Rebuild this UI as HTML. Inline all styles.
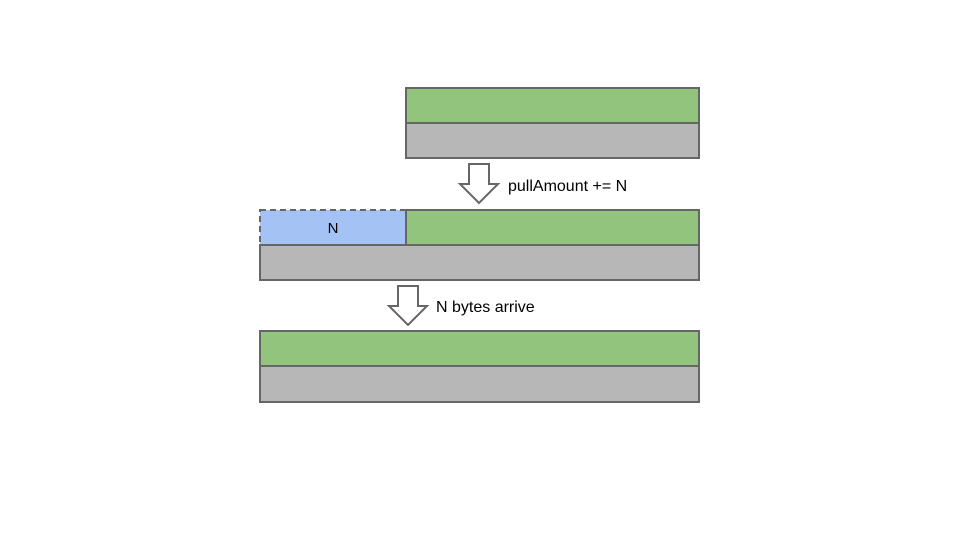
<!DOCTYPE html>
<html><head><style>body{margin:0;background:#fff}</style></head><body>
<svg width="960" height="540" xmlns="http://www.w3.org/2000/svg" font-family="Liberation Sans, sans-serif" font-size="16">
<g stroke="#666" stroke-width="2">
<rect x="406" y="88" width="293" height="35" fill="#93c47d"/>
<rect x="406" y="123" width="293" height="35" fill="#b7b7b7"/>
<rect x="260" y="210" width="146" height="35" fill="#a4c2f4" stroke-dasharray="6,4"/>
<rect x="406" y="210" width="293" height="35" fill="#93c47d"/>
<rect x="260" y="245" width="439" height="35" fill="#b7b7b7"/>
<rect x="260" y="331" width="439" height="35" fill="#93c47d"/>
<rect x="260" y="366" width="439" height="36" fill="#b7b7b7"/>
<polygon points="469,164 489,164 489,184 498,184 479,203 460,184 469,184" fill="#fff"/>
<polygon points="398,286 418,286 418,306 427,306 408,325 389,306 398,306" fill="#fff"/>
</g>
<text x="508" y="191">pullAmount += N</text>
<text x="436" y="312">N bytes arrive</text>
<text x="333" y="233" text-anchor="middle" font-size="15">N</text>
</svg>
</body></html>
